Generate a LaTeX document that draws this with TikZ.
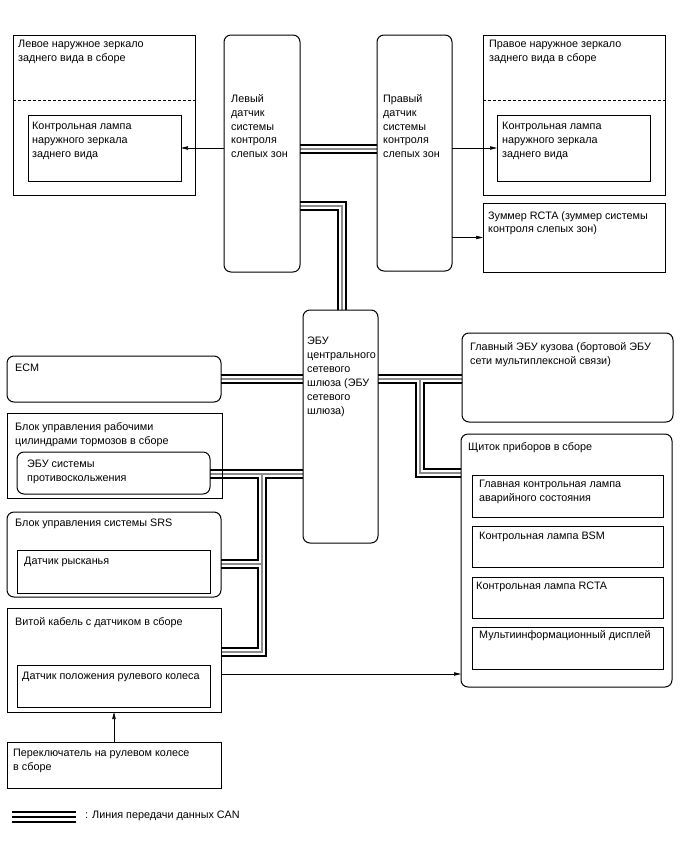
\documentclass[tikz,border=0pt]{standalone}
\usepackage{fontspec}
\setmainfont{Liberation Sans}
\usetikzlibrary{arrows.meta,backgrounds}
\tikzset{
  bx/.style={draw, line width=1pt, anchor=north west, inner sep=0pt, outer sep=0pt},
  rbx/.style={bx, rounded corners=7pt},
  txt/.style={anchor=north west, inner sep=0pt, align=left, font=\fontsize{10.8}{13.9}\selectfont},
  arr/.style={-{Triangle[length=7pt,width=3.4pt]}, line width=0.6pt},
  dsh/.style={line width=0.9pt, dash pattern=on 3pt off 2pt},
}
\begin{document}
\begin{tikzpicture}[x=1pt,y=-1pt, line join=miter]
\useasboundingbox (0,0) rectangle (688,852);
% boxes
\node[bx, minimum width=182pt, minimum height=160pt] (lmir) at (13,35) {};
\node[bx, minimum width=153pt, minimum height=66pt] (lmlamp) at (28,115) {};
\node[rbx, minimum width=76pt, minimum height=237pt] (lsens) at (224,35) {};
\node[rbx, minimum width=75pt, minimum height=236pt] (rsens) at (377,35) {};
\node[bx, minimum width=182pt, minimum height=160pt] (rmir) at (483,35) {};
\node[bx, minimum width=153pt, minimum height=66pt] (rmlamp) at (497,115) {};
\node[bx, minimum width=182pt, minimum height=69pt] (buzz) at (483,203) {};
\node[rbx, minimum width=75pt, minimum height=233pt] (gw) at (303,310) {};
\node[rbx, minimum width=214pt, minimum height=46pt] (ecm) at (7,356) {};
\node[bx, minimum width=215pt, minimum height=85pt] (brk) at (7,413) {};
\node[rbx, minimum width=193pt, minimum height=42pt] (abs) at (17,452) {};
\node[rbx, minimum width=214pt, minimum height=85pt] (srs) at (7,512) {};
\node[bx, minimum width=193pt, minimum height=43pt] (yaw) at (17,550) {};
\node[bx, minimum width=214pt, minimum height=104pt] (stc) at (7,608) {};
\node[bx, minimum width=193pt, minimum height=42pt] (ssens) at (17,665) {};
\node[bx, minimum width=214pt, minimum height=46pt] (sw) at (7,742) {};
\node[rbx, minimum width=211pt, minimum height=89pt] (mbe) at (462,333) {};
\node[rbx, minimum width=211pt, minimum height=253pt] (clu) at (461,434) {};
\node[bx, minimum width=191pt, minimum height=42pt] (c1) at (472,475) {};
\node[bx, minimum width=191pt, minimum height=41pt] (c2) at (472,526) {};
\node[bx, minimum width=191pt, minimum height=41pt] (c3) at (472,577) {};
\node[bx, minimum width=191pt, minimum height=42pt] (c4) at (472,627) {};
% dashed separators
\draw[dsh] (lmir.west |- 0,100) -- (lmir.east |- 0,100);
\draw[dsh] (rmir.west |- 0,100) -- (rmir.east |- 0,100);
% texts
\node[txt] (t-lmir) at (18,40) {Левое наружное зеркало\\заднего вида в сборе};
\node[txt] (t-lmlamp) at (32,122) {Контрольная лампа\\наружного зеркала\\заднего вида};
\node[txt] (t-lsens) at (231,94) {Левый\\датчик\\системы\\контроля\\слепых зон};
\node[txt] (t-rsens) at (383,94) {Правый\\датчик\\системы\\контроля\\слепых зон};
\node[txt] (t-rmir) at (489,40) {Правое наружное зеркало\\заднего вида в сборе};
\node[txt] (t-rmlamp) at (502,122) {Контрольная лампа\\наружного зеркала\\заднего вида};
\node[txt] (t-buzz) at (488,211) {Зуммер RCTA (зуммер системы\\контроля слепых зон)};
\node[txt] (t-gw) at (307,337) {ЭБУ\\центрального\\сетевого\\шлюза (ЭБУ\\сетевого\\шлюза)};
\node[txt] (t-ecm) at (15,364) {ECM};
\node[txt] (t-brk) at (15,422) {Блок управления рабочими\\цилиндрами тормозов в сборе};
\node[txt] (t-abs) at (27,460) {ЭБУ системы\\противоскольжения};
\node[txt] (t-srs) at (15,519) {Блок управления системы SRS};
\node[txt] (t-yaw) at (24,557) {Датчик рысканья};
\node[txt] (t-stc) at (15,617) {Витой кабель с датчиком в сборе};
\node[txt] (t-ssens) at (22,672) {Датчик положения рулевого колеса};
\node[txt] (t-sw) at (13,749) {Переключатель на рулевом колесе\\в сборе};
\node[txt] (t-mbe) at (470,342) {Главный ЭБУ кузова (бортовой ЭБУ\\сети мультиплексной связи)};
\node[txt] (t-clu) at (468,442) {Щиток приборов в сборе};
\node[txt] (t-c1) at (479,480) {Главная контрольная лампа\\аварийного состояния};
\node[txt] (t-c2) at (479,532) {Контрольная лампа BSM};
\node[txt] (t-c3) at (476,582) {Контрольная лампа RCTA};
\node[txt] (t-c4) at (479,630) {Мультиинформационный дисплей};
\node[txt] (t-leg) at (85,811) {: Линия передачи данных CAN};
% arrows
\draw[arr] (lsens.west |- lmlamp.east) -- (lmlamp.east);
\draw[arr] (rsens.east |- rmlamp.west) -- (rmlamp.west);
\draw[arr] (rsens.east |- buzz.west) -- (buzz.west);
\coordinate (sa) at (221,674);
\draw[arr] (stc.east |- sa) -- (clu.west |- sa);
\draw[arr] (sw.north) -- (stc.south);
% CAN junction coordinates
\coordinate (jt) at (342,206);
\coordinate (jh) at (0,149);
\coordinate (jr) at (420,379);
\coordinate (jrc) at (420,473);
\coordinate (jl) at (262,474);
\coordinate (js) at (262,564);
\coordinate (jc) at (262,652);
\coordinate (legA) at (12,812);
\coordinate (legB) at (76,812);
\begin{pgfonlayer}{background}
\foreach \w/\c in {9.5/black,5.5/white,1.5/black!45}{
  \draw[line width=\w pt, draw=\c]
    (lsens.east |- jh) -- (rsens.west |- jh)
    (lsens.east |- jt) -- (jt) -- (jt |- gw.north)
    (ecm.east) -- (gw.west |- ecm.east)
    (abs.east |- jl) -- (gw.west |- jl)
    (jl) -- (jc) -- (stc.east |- jc)
    (js) -- (srs.east |- js)
    (gw.east |- jr) -- (mbe.west |- jr)
    (jr) -- (jrc) -- (clu.west |- jrc);
}
\end{pgfonlayer}
% legend
\draw[line width=2.2pt] (legA) -- (legB);
\draw[line width=2.2pt] ([yshift=-4.8pt]legA) -- ([yshift=-4.8pt]legB);
\draw[line width=2.2pt] ([yshift=-10pt]legA) -- ([yshift=-10pt]legB);
\end{tikzpicture}
\end{document}
